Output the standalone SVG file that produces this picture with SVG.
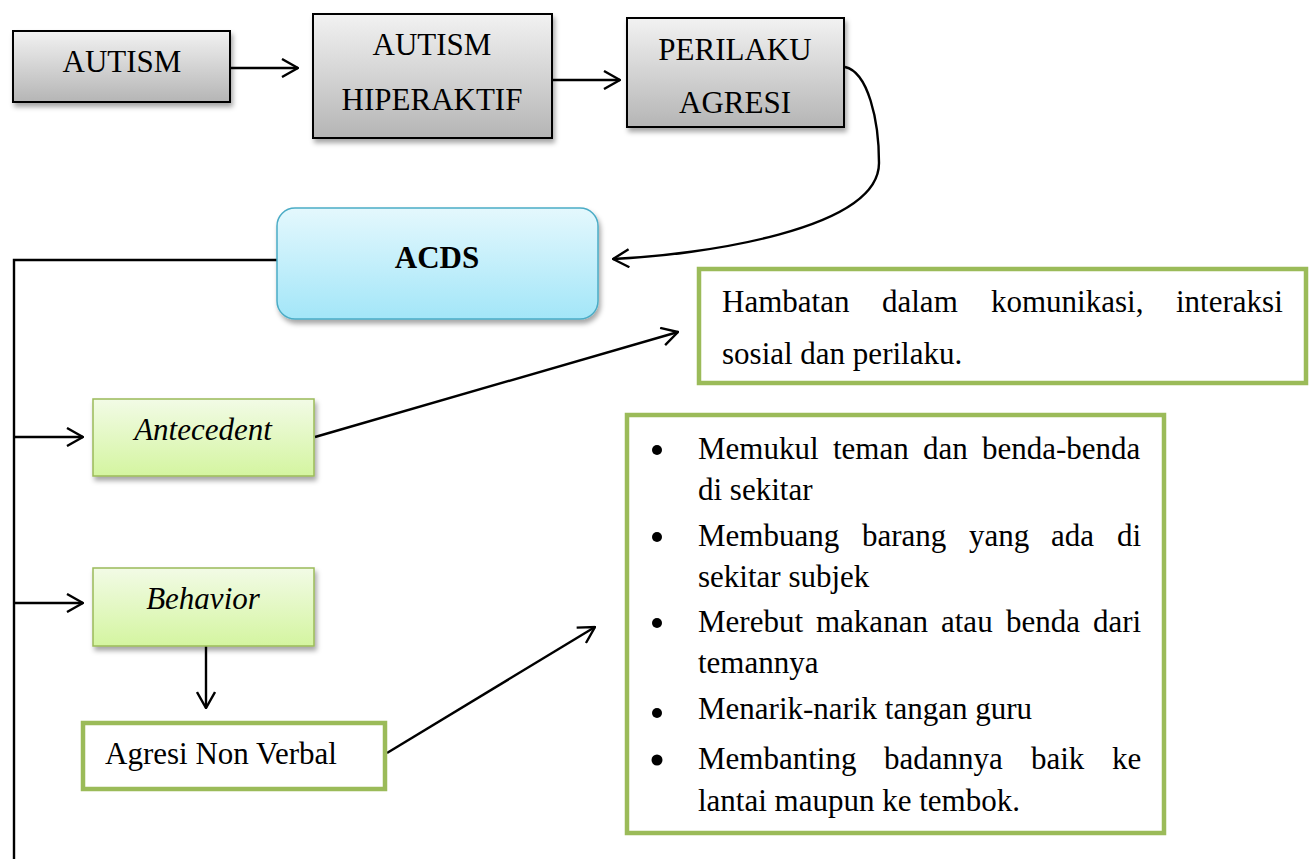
<svg xmlns="http://www.w3.org/2000/svg" width="1312" height="859" viewBox="0 0 1312 859">
<style>
text{font-family:"Liberation Serif","Times New Roman",serif;font-size:31px;fill:#000}
.c{text-anchor:middle}
.gray{fill:url(#gGray);stroke:#000;stroke-width:2}
.green{fill:url(#gGreen);stroke:#9bbb59;stroke-width:1.5}
.box{fill:#fff;stroke:#9bbb59;stroke-width:4.5}
.ln{fill:none;stroke:#000;stroke-width:2.4}
</style>
<defs>
<linearGradient id="gGray" x1="0" y1="0" x2="0" y2="1"><stop offset="0" stop-color="#f2f2f2"/><stop offset="1" stop-color="#b5b5b5"/></linearGradient>
<linearGradient id="gGreen" x1="0" y1="0" x2="0" y2="1"><stop offset="0" stop-color="#f2fbe6"/><stop offset="1" stop-color="#d4f5a0"/></linearGradient>
<linearGradient id="gBlue" x1="0" y1="0" x2="0" y2="1"><stop offset="0" stop-color="#e4f8fd"/><stop offset="1" stop-color="#a3e6f8"/></linearGradient>
<filter id="sh" x="-10%" y="-10%" width="125%" height="135%"><feDropShadow dx="2" dy="4" stdDeviation="2.5" flood-color="#000" flood-opacity="0.35"/></filter>
<marker id="ar" viewBox="0 0 18 20" refX="17" refY="10" markerWidth="18" markerHeight="20" markerUnits="userSpaceOnUse" orient="auto"><path d="M1,1 L17,10 L1,19" fill="none" stroke="#000" stroke-width="2.4"/></marker>
</defs>
<g id="connectors">
<path class="ln" d="M230,68 L298,68" marker-end="url(#ar)"/>
<path class="ln" d="M552,80 L620,80" marker-end="url(#ar)"/>
<path class="ln" d="M845,67 C868,72 879,120 879,163 C879,230 700,255 613,259" marker-end="url(#ar)"/>
<path class="ln" d="M277,260 L14,260 L14,859"/>
<path class="ln" d="M14,437 L83,437" marker-end="url(#ar)"/>
<path class="ln" d="M14,603 L83,603" marker-end="url(#ar)"/>
<path class="ln" d="M315,437 L678,332" marker-end="url(#ar)"/>
<path class="ln" d="M206,646 L206,708" marker-end="url(#ar)"/>
<path class="ln" d="M387,753 L595,627" marker-end="url(#ar)"/>
</g>
<g id="autism">
<rect class="gray" x="13" y="31" width="217" height="71" filter="url(#sh)"/>
<text class="c" x="122" y="72">AUTISM</text>
</g>
<g id="autism-hiperaktif">
<rect class="gray" x="313" y="14" width="239" height="124" filter="url(#sh)"/>
<text class="c" x="432" y="55">AUTISM</text>
<text class="c" x="432" y="110">HIPERAKTIF</text>
</g>
<g id="perilaku-agresi">
<rect class="gray" x="627" y="18" width="217" height="109" filter="url(#sh)"/>
<text class="c" x="735" y="60">PERILAKU</text>
<text class="c" x="735" y="113">AGRESI</text>
</g>
<g id="acds">
<rect x="277" y="208" width="321" height="111" rx="18" ry="18" fill="url(#gBlue)" stroke="#4bacc6" stroke-width="1.5" filter="url(#sh)"/>
<text class="c" x="437" y="268" font-weight="bold">ACDS</text>
</g>
<g id="antecedent">
<rect class="green" x="93" y="399" width="221" height="77" filter="url(#sh)"/>
<text class="c" x="203" y="440" font-style="italic">Antecedent</text>
</g>
<g id="behavior">
<rect class="green" x="93" y="568" width="221" height="78" filter="url(#sh)"/>
<text class="c" x="203" y="609" font-style="italic">Behavior</text>
</g>
<g id="agresi-non-verbal">
<rect class="box" x="83" y="723" width="302" height="66"/>
<text x="105" y="764">Agresi Non Verbal</text>
</g>
<g id="hambatan">
<rect class="box" x="699" y="269" width="607" height="114"/>
<text y="312"><tspan x="722">Hambatan</tspan><tspan x="882">dalam</tspan><tspan x="991">komunikasi,</tspan><tspan x="1176">interaksi</tspan></text>
<text x="722" y="364">sosial dan perilaku.</text>
</g>
<g id="agresi-list">
<rect class="box" x="627" y="415" width="537" height="418"/>
<circle cx="657" cy="450" r="5"/>
<circle cx="657" cy="537" r="5"/>
<circle cx="657" cy="623" r="5"/>
<circle cx="657" cy="713" r="5"/>
<circle cx="657" cy="760" r="5.5"/>
<text y="459"><tspan x="698">Memukul</tspan><tspan x="833">teman</tspan><tspan x="923">dan</tspan><tspan x="982">benda-benda</tspan></text>
<text x="698" y="500">di sekitar</text>
<text y="546"><tspan x="698">Membuang</tspan><tspan x="862">barang</tspan><tspan x="969">yang</tspan><tspan x="1051">ada</tspan><tspan x="1117">di</tspan></text>
<text x="698" y="587">sekitar subjek</text>
<text y="632"><tspan x="698">Merebut</tspan><tspan x="816">makanan</tspan><tspan x="941">atau</tspan><tspan x="1006">benda</tspan><tspan x="1093">dari</tspan></text>
<text x="698" y="673">temannya</text>
<text x="698" y="719">Menarik-narik tangan guru</text>
<text y="769"><tspan x="698">Membanting</tspan><tspan x="884">badannya</tspan><tspan x="1031">baik</tspan><tspan x="1112">ke</tspan></text>
<text x="698" y="811">lantai maupun ke tembok.</text>
</g>
</svg>
